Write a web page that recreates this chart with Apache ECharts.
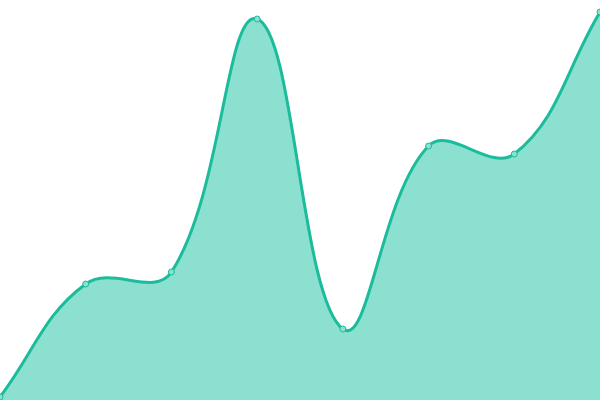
<!DOCTYPE html>
<html><head><meta charset="utf-8">
<script src="https://cdn.jsdelivr.net/npm/echarts@6/dist/echarts.min.js"></script>
<style>html,body{margin:0;padding:0;background:#fff}#c{width:600px;height:400px}</style>
</head><body><div id="c"></div>
<script>
const categories = ['A','B','C','D','E','F','G','H'];
const values = [3, 116, 128, 381, 71, 254, 246, 388];
const tension = 0.4;

function splinePath(pts, bottom) {
  const n = pts.length;
  const cps = pts.map((p, i) => {
    const a = pts[i - 1] || p, b = pts[i + 1] || p;
    const d01 = Math.hypot(p[0] - a[0], p[1] - a[1]);
    const d12 = Math.hypot(b[0] - p[0], b[1] - p[1]);
    let s01 = d01 / (d01 + d12), s12 = d12 / (d01 + d12);
    if (!isFinite(s01)) s01 = 0;
    if (!isFinite(s12)) s12 = 0;
    const fa = tension * s01, fb = tension * s12;
    return {
      prev: [p[0] - fa * (b[0] - a[0]), p[1] - fa * (b[1] - a[1])],
      next: [p[0] + fb * (b[0] - a[0]), p[1] + fb * (b[1] - a[1])]
    };
  });
  let d = 'M' + pts[0][0] + ' ' + pts[0][1];
  for (let i = 1; i < n; i++) {
    const c1 = cps[i - 1].next, c2 = cps[i].prev;
    d += ' C' + c1[0] + ' ' + c1[1] + ' ' + c2[0] + ' ' + c2[1] + ' ' + pts[i][0] + ' ' + pts[i][1];
  }
  const area = d + ' L' + pts[n - 1][0] + ' ' + bottom + ' L' + pts[0][0] + ' ' + bottom + ' Z';
  return {line: d, area: area};
}

const chart = echarts.init(document.getElementById('c'));
chart.setOption({
  animation: false,
  grid: {left: 0, right: 0, top: 0, bottom: 0},
  xAxis: {type: 'category', data: categories, boundaryGap: false, show: false},
  yAxis: {type: 'value', min: 0, max: 400, show: false},
  series: [{
    type: 'custom',
    data: values.map((v, i) => [i, v]),
    renderItem: function (params, api) {
      if (params.dataIndex !== 0) return null;
      const pts = values.map((v, i) => api.coord([i, v]));
      const bottom = api.coord([0, 0])[1];
      const p = splinePath(pts, bottom);
      return {
        type: 'group',
        children: [
          {type: 'path', shape: {pathData: p.area}, style: {fill: '#8be0cf', stroke: null}},
          {type: 'path', shape: {pathData: p.line}, style: {fill: null, stroke: '#1abc9c', lineWidth: 3}}
        ]
      };
    },
    z: 1
  }, {
    type: 'line',
    data: values,
    symbol: 'circle',
    symbolSize: 6,
    lineStyle: {width: 0, opacity: 0},
    itemStyle: {color: '#8be0cf', borderColor: '#1abc9c', borderWidth: 1},
    z: 3
  }]
});
</script></body></html>
